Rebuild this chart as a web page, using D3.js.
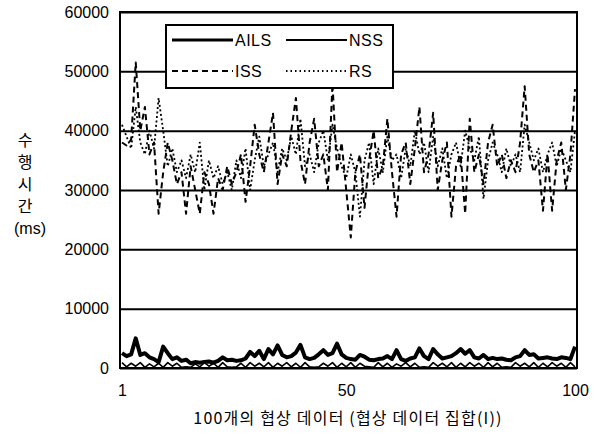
<html>
  <head>
    <meta charset="utf-8">
    <script src="https://cdnjs.cloudflare.com/ajax/libs/d3/7.8.5/d3.min.js"></script>
    <style>
      body { margin: 0; background: #fff; }
      svg { display: block; font-family: "Liberation Sans", Arial, sans-serif; }
      .tick text { font-size: 16px; fill: #000; }
    </style>
  </head>
  <body>
    <svg width="594" height="438"></svg>
    <script>
      // 100 negotiation data sets, execution time (ms)
      const xTicks = [1, 50, 100];
      const yTicks = [0, 10000, 20000, 30000, 40000, 50000, 60000];
      const seriesNames = ["AILS", "NSS", "ISS", "RS"];

      const ails = [2500, 2000, 2300, 5000, 2200, 2500, 1800, 1500, 1000, 3600,
                    2500, 1500, 1800, 1200, 1400, 800, 1000, 900, 1000, 1100,
                    900, 1200, 1800, 1300, 1400, 1200, 1300, 1600, 2700, 2000,
                    2900, 1500, 3200, 2300, 3800, 2200, 1800, 2000, 2600, 3900,
                    1800, 1500, 1700, 2300, 3000, 2200, 2500, 4100, 2300, 1700,
                    1500, 1400, 2200, 1900, 1400, 1300, 1500, 1600, 2000, 1500,
                    3000, 1500, 1200, 1600, 1800, 3300, 2000, 1500, 3200, 2300,
                    1600, 1800, 2000, 2500, 3200, 2400, 3000, 1800, 1600, 2200,
                    1500, 1700, 1500, 1600, 1400, 1300, 1800, 2000, 3000, 2200,
                    2300, 1600, 1700, 1800, 1600, 1500, 1800, 1700, 1500, 3600];

      const nss = [900, 200, 800, 300, 900, 100, 700, 200, 800, 100,
                   900, 300, 800, 100, 200, 100, 700, 200, 900, 300,
                   800, 100, 900, 200, 100, 200, 800, 100, 900, 300,
                   800, 200, 900, 100, 800, 300, 900, 200, 800, 100,
                   900, 200, 100, 200, 800, 300, 900, 100, 800, 200,
                   900, 100, 800, 300, 200, 100, 900, 200, 800, 100,
                   700, 300, 900, 200, 800, 100, 200, 100, 900, 300,
                   800, 200, 900, 100, 800, 200, 900, 300, 800, 100,
                   900, 200, 800, 100, 200, 100, 900, 300, 800, 200,
                   900, 100, 800, 200, 900, 300, 800, 100, 900, 200];

      const iss = [38000, 37500, 38500, 51500, 40000, 44000, 36000, 38000, 26000, 33000,
                   38000, 35000, 31000, 33000, 26000, 34000, 30000, 26000, 33000, 31000,
                   26000, 32000, 30000, 34000, 31000, 33000, 36000, 28000, 34000, 41000,
                   36000, 33000, 38000, 43000, 31000, 36000, 34000, 40000, 45500, 35000,
                   31000, 38000, 42000, 34000, 36000, 30000, 48000, 33000, 38000, 30000,
                   22000, 33000, 36000, 27000, 35000, 40000, 32000, 34000, 42000, 33000,
                   25500, 36000, 38000, 31000, 37000, 44000, 33000, 36000, 43000, 30000,
                   35000, 38000, 25500, 34000, 36000, 26000, 42000, 33000, 36000, 31000,
                   38000, 41000, 34000, 36000, 32000, 35000, 33000, 38000, 47500, 36000,
                   33000, 35000, 26500, 36000, 26500, 35000, 38000, 30000, 36000, 47000];

      const rs = [41000, 39000, 37000, 44000, 38000, 36000, 40000, 37000, 45500, 40000,
                  34000, 37000, 33000, 35000, 32000, 36000, 33000, 38000, 30000, 35000,
                  32000, 34000, 31000, 33000, 30000, 35000, 32000, 37000, 30000, 35000,
                  39000, 34000, 36000, 38000, 33000, 37000, 35000, 39000, 36000, 42000,
                  34000, 36000, 33000, 38000, 40000, 35000, 41000, 37000, 34000, 32000,
                  36000, 33000, 25500, 35000, 38000, 31000, 37000, 33000, 39000, 35000,
                  36000, 32000, 37000, 34000, 40000, 36000, 38000, 33000, 39000, 34000,
                  37000, 32000, 36000, 38000, 34000, 40000, 37000, 35000, 39000, 28500,
                  35000, 38000, 36000, 33000, 37000, 34000, 36000, 33000, 41000, 38000,
                  35000, 37000, 33000, 36000, 38000, 34000, 37000, 35000, 33000, 40000];

      const svg = d3.select("svg");
      const pLeft = 120, pRight = 577, pTop = 12, pBottom = 368;

      const x = d3.scaleLinear().domain([1, 100]).range([122, 575]);
      const y = d3.scaleLinear().domain([0, 60000]).range([pBottom, pTop]);

      // gridlines
      svg.append("g")
        .attr("transform", `translate(${pLeft},0)`)
        .call(d3.axisLeft(y).tickValues(yTicks).tickSize(-(pRight - pLeft)).tickFormat(""))
        .call(g => g.select(".domain").remove())
        .call(g => g.selectAll("line").attr("stroke", "#000").attr("stroke-width", 2));

      // y tick labels
      svg.append("g")
        .attr("transform", `translate(${pLeft},0)`)
        .call(d3.axisLeft(y).tickValues(yTicks).tickSize(0).tickPadding(11).tickFormat(d3.format("d")))
        .call(g => g.select(".domain").remove())
        .call(g => g.selectAll("text").attr("font-family", "Liberation Sans, Arial, sans-serif"));

      // x tick labels
      svg.append("g")
        .attr("transform", `translate(0,${pBottom})`)
        .call(d3.axisBottom(x).tickValues(xTicks).tickSize(0).tickPadding(17))
        .call(g => g.select(".domain").remove())
        .call(g => g.selectAll("text").attr("font-family", "Liberation Sans, Arial, sans-serif"));

      const line = d3.line().x((d, i) => x(i + 1)).y(d => y(d));
      svg.append("defs").append("clipPath").attr("id", "clip")
        .append("rect").attr("x", pLeft).attr("y", pTop)
        .attr("width", pRight - pLeft).attr("height", pBottom - pTop);
      const plot = svg.append("g").attr("clip-path", "url(#clip)");

      const styles = {
        AILS: { data: ails, w: 4, dash: null },
        NSS: { data: nss, w: 1.6, dash: null },
        ISS: { data: iss, w: 2, dash: "6,4" },
        RS: { data: rs, w: 1.8, dash: "2,2.5" }
      };

      ["RS", "ISS", "NSS", "AILS"].forEach(name => {
        const s = styles[name];
        plot.append("path")
          .datum(s.data)
          .attr("fill", "none")
          .attr("stroke", "#000")
          .attr("stroke-width", s.w)
          .attr("stroke-linejoin", "round")
          .attr("stroke-dasharray", s.dash)
          .attr("d", line);
      });

      // frame
      svg.append("rect")
        .attr("x", pLeft).attr("y", pTop)
        .attr("width", pRight - pLeft).attr("height", pBottom - pTop)
        .attr("fill", "none").attr("stroke", "#000").attr("stroke-width", 2);

      // legend
      const legend = svg.append("g");
      legend.append("rect")
        .attr("x", 166).attr("y", 25).attr("width", 227).attr("height", 63)
        .attr("fill", "#fff").attr("stroke", "#000").attr("stroke-width", 2);
      const legPos = [
        { name: "AILS", x: 172, y: 40 },
        { name: "NSS", x: 286, y: 40 },
        { name: "ISS", x: 172, y: 71 },
        { name: "RS", x: 286, y: 71 }
      ];
      legPos.forEach(p => {
        const s = styles[p.name];
        legend.append("line")
          .attr("x1", p.x).attr("x2", p.x + 61).attr("y1", p.y).attr("y2", p.y)
          .attr("stroke", "#000").attr("stroke-width", p.name === "AILS" ? 3 : 1.8)
          .attr("stroke-dasharray", p.name === "RS" ? "1.5,3" : s.dash);
        legend.append("text")
          .attr("x", p.x + 63).attr("y", p.y).attr("dy", "0.36em")
          .attr("font-size", 16).attr("letter-spacing", 0.5)
          .text(p.name);
      });

      // y axis title (vertical stacked)
      const yTitle = ["수", "행", "시", "간"];
      yTitle.forEach((ch, i) => {
        svg.append("text")
          .attr("x", 25).attr("y", 140 + i * 22).attr("dy", "0.36em")
          .attr("text-anchor", "middle")
          .attr("font-family", "Noto Sans CJK KR, sans-serif")
          .attr("font-size", 16)
          .text(ch);
      });
      svg.append("text")
        .attr("x", 30).attr("y", 228).attr("dy", "0.36em")
        .attr("text-anchor", "middle").attr("font-size", 16)
        .text("(ms)");

      // x axis title
      svg.append("text")
        .attr("x", 348).attr("y", 418).attr("dy", "0.36em")
        .attr("text-anchor", "middle")
        .attr("font-family", "Noto Sans CJK KR, sans-serif")
        .attr("font-size", 16).attr("letter-spacing", 1.2)
        .text("100개의 협상 데이터 (협상 데이터 집합(I))");
    </script>
  </body>
</html>
